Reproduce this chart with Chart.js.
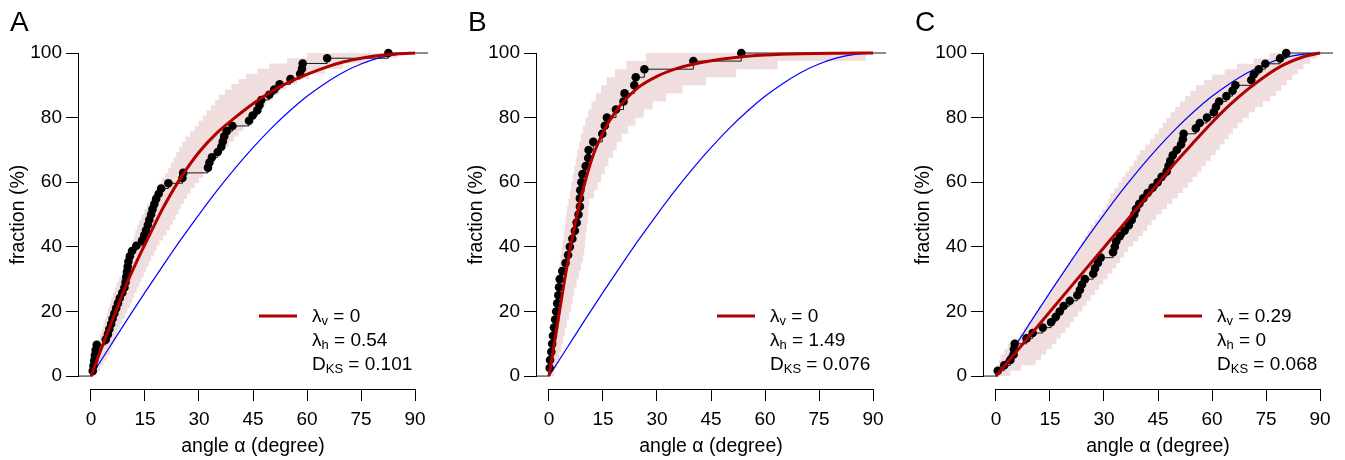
<!DOCTYPE html>
<html>
<head>
<meta charset="utf-8">
<script src="https://cdn.jsdelivr.net/npm/chart.js@4.4.1/dist/chart.umd.min.js"></script>
<style>
html,body{margin:0;padding:0;background:#fff;width:1345px;height:460px;overflow:hidden}
.panel{position:absolute;top:0;height:460px}
canvas{display:block}
</style>
</head>
<body>
<div class="panel" style="left:0px;width:448px"><canvas id="cA" width="448" height="460"></canvas></div>
<div class="panel" style="left:458px;width:448px"><canvas id="cB" width="448" height="460"></canvas></div>
<div class="panel" style="left:905px;width:440px"><canvas id="cC" width="440" height="460"></canvas></div>
<script>
// ---------- shared axis definitions ----------
const X_TICKS = [0, 15, 30, 45, 60, 75, 90];
const Y_TICKS = [0, 20, 40, 60, 80, 100];
const X_RANGE = [-3.6, 93.6];
const Y_RANGE = [-4, 104];
const X_TITLE = 'angle α (degree)';
const Y_TITLE = 'fraction (%)';

// ---------- blue reference curve (same in all panels) ----------
const refAngle = [0, 5, 10, 15, 20, 25, 30, 35, 40, 45, 50, 55, 60, 65, 70, 75, 80, 85, 90];
const refFrac  = [0, 8.7, 17.4, 25.9, 34.2, 42.3, 50, 57.4, 64.3, 70.7, 76.6, 81.9, 86.6, 90.6, 94, 96.6, 98.5, 99.6, 100];

// ---------- Panel A ----------
const aDotAngle = [0.5, 0.7, 0.9, 1.1, 1.3, 1.6, 4.1, 4.7, 5.1, 5.6, 6.0, 6.5, 7.0, 7.5, 8.0, 8.7,
  9.3, 9.6, 9.8, 10.0, 10.2, 10.4, 10.8, 11.4, 12.6, 14.2, 14.8, 15.3, 15.8, 16.2, 16.7, 17.1,
  17.6, 18.1, 18.8, 19.5, 21.5, 25.4, 25.6, 32.5, 32.9, 33.6, 35.2, 36.2, 36.6, 37.0, 37.7, 39.3,
  43.9, 44.9, 46.2, 46.8, 47.3, 49.5, 50.9, 52.4, 55.4, 58.1, 58.6, 58.8, 65.6, 82.6];
const aDotFrac = [1.61, 3.23, 4.84, 6.45, 8.06, 9.68, 11.29, 12.90, 14.52, 16.13, 17.74, 19.35, 20.97,
  22.58, 24.19, 25.81, 27.42, 29.03, 30.65, 32.26, 33.87, 35.48, 37.10, 38.71, 40.32, 41.94, 43.55,
  45.16, 46.77, 48.39, 50.00, 51.61, 53.23, 54.84, 56.45, 58.06, 59.68, 61.29, 62.90, 64.52, 66.13,
  67.74, 69.35, 70.97, 72.58, 74.19, 75.81, 77.42, 79.03, 80.65, 82.26, 83.87, 85.48, 87.10, 88.71,
  90.32, 91.94, 93.55, 95.16, 96.77, 98.39, 100];
const aFitAngle = [0, 2.5, 5, 7.5, 10, 12.5, 15, 17.5, 20, 25, 30, 35, 40, 45, 50, 55, 60, 65, 70, 75, 80, 85, 90];
const aFitFrac  = [0, 7.4, 14.6, 21.8, 28.8, 35.0, 40.8, 46.5, 52.0, 61.5, 69.3, 75.3, 80.0, 84.3, 88.0, 91.0, 93.4, 95.5, 97.2, 98.4, 99.2, 99.7, 100];
// envelope: fraction levels with the angle at which the upper / lower edge reaches each level
const aBandFrac = [0, 1.61, 3.23, 4.84, 6.45, 8.06, 9.68, 11.29, 12.90, 14.52, 16.13, 17.74, 19.35, 20.97,
  22.58, 24.19, 25.81, 27.42, 29.03, 30.65, 32.26, 33.87, 35.48, 37.10, 38.71, 40.32, 41.94, 43.55,
  45.16, 46.77, 48.39, 50.00, 51.61, 53.23, 54.84, 56.45, 58.06, 59.68, 61.29, 62.90, 64.52, 66.13,
  67.74, 69.35, 70.97, 72.58, 74.19, 75.81, 77.42, 79.03, 80.65, 82.26, 83.87, 85.48, 87.10, 88.71,
  90.32, 91.94, 93.55, 95.16, 96.77, 98.39, 100, 100];
const aBandHiAngle = [0, 0.05, 0.1, 0.25, 0.4, 0.8, 1.3, 1.9, 2.5, 2.9, 3.4, 3.8, 4.3, 4.7, 5.2, 5.6, 6.1,
  6.6, 7.1, 7.8, 8.6, 9.1, 9.6, 10.1, 10.6, 11.1, 11.7, 12.0, 12.3, 12.8, 13.4, 14.1, 14.8, 15.6, 16.5,
  17.4, 18.3, 19.0, 19.7, 20.6, 21.5, 22.2, 23.0, 23.7, 24.5, 25.3, 26.2, 27.5, 28.8, 29.9, 31.0, 32.1,
  33.3, 34.4, 35.5, 37.2, 39.0, 41.0, 43.0, 46.2, 49.5, 54.5, 60.0, 90];
const aBandLoAngle = [0, 1.5, 2.5, 3.5, 4.5, 5.2, 5.8, 6.3, 6.8, 7.4, 8.0, 8.7, 9.4, 10.1, 10.8, 11.4, 12.0,
  12.7, 13.4, 14.0, 14.7, 15.3, 16.0, 16.7, 17.5, 18.2, 19.0, 20.0, 21.0, 21.9, 22.8, 23.5, 24.3, 25.0,
  25.8, 26.7, 27.6, 28.8, 30.0, 31.2, 32.5, 33.5, 34.5, 35.7, 37.0, 38.4, 39.8, 41.0, 42.3, 43.4, 44.5,
  45.6, 46.8, 48.6, 50.5, 52.3, 54.2, 57.3, 60.5, 65.0, 70.0, 77.0, 85.0, 90];
const aLegend = [['λ', 'v', ' = 0'], ['λ', 'h', ' = 0.54'], ['D', 'KS', ' = 0.101']];

// ---------- Panel B ----------
const bDotAngle = [0.2, 0.3, 0.65, 0.9, 1.1, 1.4, 1.7, 2.0, 2.3, 2.6, 2.8, 3.0, 3.7, 4.6, 5.3, 5.8,
  6.5, 7.2, 7.7, 8.2, 8.6, 8.6, 8.7, 9.0, 9.3, 10.2, 10.9, 11.0, 12.3, 14.8, 15.5, 16.1, 18.6, 20.7,
  21.0, 23.7, 24.1, 26.5, 40.1, 53.4];
const bDotFrac = [2.5, 5, 7.5, 10, 12.5, 15, 17.5, 20, 22.5, 25, 27.5, 30, 32.5, 35, 37.5, 40, 42.5, 45,
  47.5, 50, 52.5, 55, 57.5, 60, 62.5, 65, 67.5, 70, 72.5, 75, 77.5, 80, 82.5, 85, 87.5, 90, 92.5, 95, 97.5, 100];
const bFitAngle = [0, 2, 4, 6, 8, 10, 12, 14, 16, 18, 20, 25, 30, 35, 40, 45, 50, 55, 60, 70, 80, 90];
const bFitFrac  = [0, 13.5, 27.5, 40, 51, 60, 67.5, 73, 77.5, 81, 84, 89.5, 92.8, 95.0, 96.5, 97.6, 98.4, 99.0, 99.4, 99.8, 99.95, 100];
const bBandFrac = [0, 2.5, 5, 7.5, 10, 12.5, 15, 17.5, 20, 22.5, 25, 27.5, 30, 32.5, 35, 37.5, 40, 42.5,
  45, 47.5, 50, 52.5, 55, 57.5, 60, 62.5, 65, 67.5, 70, 72.5, 75, 77.5, 80, 82.5, 85, 87.5, 90, 92.5, 95,
  97.5, 100, 100];
const bBandHiAngle = [0, 0.2, 0.4, 0.6, 0.8, 1.0, 1.2, 1.3, 1.5, 1.8, 2.0, 2.2, 2.4, 2.6, 2.9, 3.2, 3.5,
  3.8, 4.1, 4.4, 4.7, 5.0, 5.4, 5.8, 6.2, 6.6, 7.0, 7.4, 7.8, 8.3, 8.8, 9.4, 10.1, 10.9, 11.8, 13.0,
  14.5, 16.0, 18.3, 21.5, 26.9, 90];
const bBandLoAngle = [0, 1.5, 2.2, 2.8, 3.4, 3.9, 4.4, 5.0, 5.6, 6.1, 6.6, 7.1, 7.7, 8.3, 8.9, 9.4, 9.8,
  10.0, 10.2, 10.5, 10.8, 11.0, 11.2, 12.5, 13.5, 14.5, 15.5, 16.5, 17.8, 18.8, 20.2, 22.0, 24.0, 26.3,
  28.8, 32.5, 37.1, 43.6, 52.0, 63.5, 88, 90];
const bLegend = [['λ', 'v', ' = 0'], ['λ', 'h', ' = 1.49'], ['D', 'KS', ' = 0.076']];

// ---------- Panel C ----------
const cDotAngle = [0.5, 2.3, 4.0, 4.9, 5.0, 5.2, 8.5, 10.2, 13.0, 15.3, 16.6, 17.7, 18.8, 20.5, 22.6,
  23.3, 23.9, 24.7, 27.0, 27.5, 28.3, 29.1, 32.5, 33.0, 33.4, 34.4, 35.7, 36.9, 37.7, 38.4, 38.9, 39.8,
  40.9, 42.1, 43.5, 44.9, 46.0, 47.4, 47.9, 48.4, 49.1, 50.2, 51.4, 51.9, 52.1, 55.5, 56.6, 58.6, 60.5,
  61.1, 62.0, 64.0, 65.7, 66.5, 70.9, 71.6, 73.0, 74.8, 78.9, 80.6];
const cDotFrac = [1.67, 3.33, 5.00, 6.67, 8.33, 10.00, 11.67, 13.33, 15.00, 16.67, 18.33, 20.00, 21.67,
  23.33, 25.00, 26.67, 28.33, 30.00, 31.67, 33.33, 35.00, 36.67, 38.33, 40.00, 41.67, 43.33, 45.00,
  46.67, 48.33, 50.00, 51.67, 53.33, 55.00, 56.67, 58.33, 60.00, 61.67, 63.33, 65.00, 66.67, 68.33,
  70.00, 71.67, 73.33, 75.00, 76.67, 78.33, 80.00, 81.67, 83.33, 85.00, 86.67, 88.33, 90.00, 91.67,
  93.33, 95.00, 96.67, 98.33, 100];
const cFitAngle = [0, 10, 20, 30, 40, 50, 55, 60, 65, 70, 75, 80, 85, 90];
const cFitFrac  = [0, 13.3, 26.6, 39.8, 53.0, 66.3, 72.5, 78.5, 84.0, 88.8, 93.0, 96.4, 98.7, 100];
const cBandFrac = [0, 1.67, 3.33, 5.00, 6.67, 8.33, 10.00, 11.67, 13.33, 15.00, 16.67, 18.33, 20.00, 21.67,
  23.33, 25.00, 26.67, 28.33, 30.00, 31.67, 33.33, 35.00, 36.67, 38.33, 40.00, 41.67, 43.33, 45.00,
  46.67, 48.33, 50.00, 51.67, 53.33, 55.00, 56.67, 58.33, 60.00, 61.67, 63.33, 65.00, 66.67, 68.33,
  70.00, 71.67, 73.33, 75.00, 76.67, 78.33, 80.00, 81.67, 83.33, 85.00, 86.67, 88.33, 90.00, 91.67,
  93.33, 95.00, 96.67, 98.33, 100, 100];
const cBandHiAngle = [0, 0.1, 0.3, 0.8, 1.3, 2.3, 3.3, 5.0, 6.7, 7.8, 8.9, 10.0, 11.0, 12.0, 13.1, 14.1,
  15.1, 16.0, 17.0, 18.0, 19.0, 20.0, 21.0, 22.0, 22.9, 23.7, 24.6, 25.4, 26.3, 27.4, 28.5, 29.5, 30.5,
  31.2, 31.8, 32.9, 34.0, 35.0, 36.0, 37.1, 38.2, 39.1, 40.0, 41.4, 42.8, 44.0, 45.2, 46.3, 47.3, 48.5,
  49.7, 51.1, 52.5, 54.0, 55.5, 57.8, 60.0, 63.5, 66.9, 71.5, 76.0, 90];
const cBandLoAngle = [0, 4.0, 7.0, 11.0, 12.5, 14.0, 15.5, 16.8, 18.0, 19.3, 20.5, 21.6, 22.8, 24.0, 25.2,
  26.3, 27.5, 28.6, 29.8, 31.0, 32.3, 33.4, 34.5, 35.6, 36.7, 38.1, 39.5, 40.8, 42.0, 43.2, 44.5, 46.0,
  47.5, 49.0, 50.5, 51.9, 53.3, 54.6, 56.0, 57.1, 58.3, 59.6, 61.0, 62.2, 63.5, 64.6, 65.8, 67.1, 68.5,
  70.2, 72.0, 74.1, 76.2, 77.8, 79.3, 80.8, 82.3, 83.8, 85.4, 87.2, 89.0, 90];
const cLegend = [['λ', 'v', ' = 0.29'], ['λ', 'h', ' = 0'], ['D', 'KS', ' = 0.068']];

// ---------- styling ----------
const FONT = "'Liberation Sans', Arial, Helvetica, sans-serif";
const RED = '#b00000';
const BLUE = '#0000ff';
const PINK = 'rgb(240,221,221)';
const INK = '#000000';

Chart.defaults.font.family = FONT;
Chart.defaults.color = INK;

const pts = (xs, ys) => xs.map((x, i) => ({x: x, y: ys[i]}));
const alignPx = v => Math.round(v - 0.5) + 0.5;

// corner points of a right-continuous step curve (CDF style)
function stepCorners(xs, ys) {
  const out = [{x: xs[0], y: ys[0]}];
  for (let k = 1; k < xs.length; k++) {
    out.push({x: xs[k], y: ys[k - 1]});
    out.push({x: xs[k], y: ys[k]});
  }
  return out;
}
// closed band outline: upper edge forward, lower edge backward
function bandOutline(hiA, loA, fr) {
  return stepCorners(hiA, fr).concat(stepCorners(loA, fr).reverse());
}

const axisLinePlugin = {
  id: 'axisLines',
  afterDraw(chart) {
    const {ctx, chartArea, scales} = chart;
    const x = scales.x, y = scales.y;
    ctx.save();
    ctx.strokeStyle = INK;
    ctx.lineWidth = 1;
    ctx.beginPath();
    const yb = alignPx(chartArea.bottom);
    ctx.moveTo(alignPx(x.getPixelForValue(X_TICKS[0])) - 0.5, yb);
    ctx.lineTo(alignPx(x.getPixelForValue(X_TICKS[X_TICKS.length - 1])) + 0.5, yb);
    const xl = alignPx(chartArea.left);
    ctx.moveTo(xl, alignPx(y.getPixelForValue(Y_TICKS[0])) + 0.5);
    ctx.lineTo(xl, alignPx(y.getPixelForValue(Y_TICKS[Y_TICKS.length - 1])) - 0.5);
    ctx.stroke();
    ctx.restore();
  }
};

const fitLegendPlugin = {
  id: 'fitLegend',
  afterDatasetsDraw(chart, args, opts) {
    const {ctx, chartArea} = chart;
    const rows = opts.rows || [];
    ctx.save();
    ctx.strokeStyle = RED;
    ctx.lineWidth = 3;
    ctx.beginPath();
    ctx.moveTo(chartArea.right - 169, chartArea.bottom - 73);
    ctx.lineTo(chartArea.right - 131, chartArea.bottom - 73);
    ctx.stroke();
    ctx.fillStyle = INK;
    ctx.textBaseline = 'alphabetic';
    ctx.textAlign = 'left';
    const base = [67.5, 43, 19];
    rows.forEach((r, i) => {
      let xx = chartArea.right - 116;
      const yy = chartArea.bottom - base[i];
      ctx.font = '19px ' + FONT;
      ctx.fillText(r[0], xx, yy);
      xx += ctx.measureText(r[0]).width;
      ctx.font = '13px ' + FONT;
      ctx.fillText(r[1], xx, yy + 3);
      xx += ctx.measureText(r[1]).width;
      ctx.font = '19px ' + FONT;
      ctx.fillText(r[2], xx, yy);
    });
    ctx.restore();
  }
};

function makePanel(id, letter, dotA, dotF, fitA, fitF, hiA, loA, bandF, legendRows, padRight) {
  const ecdf = [{x: X_RANGE[0], y: Y_TICKS[0]}].concat(pts(dotA, dotF), [{x: X_RANGE[1], y: Y_TICKS[Y_TICKS.length - 1]}]);
  return new Chart(document.getElementById(id), {
    type: 'line',
    data: {
      datasets: [
        {label: 'fit', data: pts(fitA, fitF), borderColor: RED, borderWidth: 3, pointRadius: 0,
         cubicInterpolationMode: 'monotone', fill: false, order: 0},
        {label: 'data', data: pts(dotA, dotF), showLine: false, pointRadius: 4.3,
         pointBackgroundColor: INK, pointBorderWidth: 0, pointBorderColor: INK, fill: false, order: 1},
        {label: 'ecdf', data: ecdf, stepped: true, borderColor: '#1a1a1a', borderWidth: 1,
         pointRadius: 0, fill: false, order: 2},
        {label: 'isotropic', data: pts(refAngle, refFrac), borderColor: BLUE, borderWidth: 1.2,
         pointRadius: 0, cubicInterpolationMode: 'monotone', fill: false, order: 3},
        {label: 'band', data: bandOutline(hiA, loA, bandF), borderColor: 'rgba(0,0,0,0)',
         borderWidth: 0, borderDash: [6, 0], pointRadius: 0, tension: 0, spanGaps: true,
         fill: 'shape', backgroundColor: PINK, order: 4}
      ]
    },
    options: {
      responsive: false,
      animation: false,
      devicePixelRatio: 1,
      events: [],
      layout: {padding: {left: 10, right: padRight, top: 0, bottom: 0}},
      plugins: {
        legend: {display: false},
        tooltip: {enabled: false},
        title: {display: true, text: letter, align: 'start', color: INK,
                font: {family: FONT, size: 28, weight: 'normal', lineHeight: 1.2},
                padding: {top: 6.5, bottom: 0}},
        fitLegend: {rows: legendRows}
      },
      scales: {
        x: {
          type: 'linear', min: X_RANGE[0], max: X_RANGE[1],
          afterBuildTicks: s => { s.ticks = X_TICKS.map(v => ({value: v})); },
          afterFit: s => { s.height = 71; },
          ticks: {font: {family: FONT, size: 19, lineHeight: 1.2}, color: INK, padding: 7,
                  maxRotation: 0, autoSkip: false, callback: v => String(v)},
          grid: {display: true, drawOnChartArea: false, drawTicks: true, tickLength: 12,
                 color: INK, lineWidth: 1},
          border: {display: false},
          title: {display: true, text: X_TITLE, color: INK,
                  font: {family: FONT, size: 19.5, lineHeight: 1.2}, padding: {top: 0, bottom: 2}}
        },
        y: {
          type: 'linear', min: Y_RANGE[0], max: Y_RANGE[1],
          afterBuildTicks: s => { s.ticks = Y_TICKS.map(v => ({value: v})); },
          afterFit: s => { s.width = 68; },
          ticks: {font: {family: FONT, size: 19, lineHeight: 1.2}, color: INK, padding: 4,
                  autoSkip: false, callback: v => String(v)},
          grid: {display: true, drawOnChartArea: false, drawTicks: true, tickLength: 12,
                 color: INK, lineWidth: 1},
          border: {display: false},
          title: {display: true, text: Y_TITLE, color: INK,
                  font: {family: FONT, size: 19.5, lineHeight: 0.6}, padding: {top: 3, bottom: 0}}
        }
      }
    },
    plugins: [axisLinePlugin, fitLegendPlugin]
  });
}

makePanel('cA', 'A', aDotAngle, aDotFrac, aFitAngle, aFitFrac, aBandHiAngle, aBandLoAngle, aBandFrac, aLegend, 20);
makePanel('cB', 'B', bDotAngle, bDotFrac, bFitAngle, bFitFrac, bBandHiAngle, bBandLoAngle, bBandFrac, bLegend, 20);
makePanel('cC', 'C', cDotAngle, cDotFrac, cFitAngle, cFitFrac, cBandHiAngle, cBandLoAngle, cBandFrac, cLegend, 12);
</script>
</body>
</html>
